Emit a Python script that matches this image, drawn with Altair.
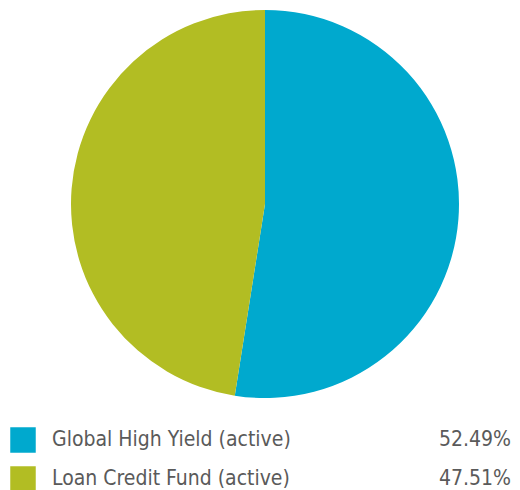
import altair as alt
import pandas as pd

categories = ["Global High Yield (active)", "Loan Credit Fund (active)"]
values = [52.49, 47.51]
labels = ["52.49%", "47.51%"]
colors = ["#00A9CE", "#B2BD23"]
order_idx = [0, 1]

df = pd.DataFrame({"category": categories, "value": values, "label": labels, "idx": order_idx})

FONT = "DejaVu Sans Condensed, Roboto Condensed, Roboto"
TEXT_COLOR = "#5a5a5a"

color = alt.Color("category:N", scale=alt.Scale(domain=categories, range=colors), legend=None)

base = alt.Chart(df)

pie = base.mark_arc(outerRadius=194).encode(
    theta=alt.Theta("value:Q", stack=True),
    color=color,
    order=alt.Order("idx:Q"),
    x=alt.value(257),
    y=alt.value(196),
)

ypos = alt.Y("category:N", sort=categories,
             scale=alt.Scale(domain=categories, type="point", range=[432, 471], padding=0),
             axis=None)

squares = base.mark_square(size=650, opacity=1).encode(x=alt.value(15), y=ypos, color=color)
names = base.mark_text(align="left", baseline="middle", font=FONT, fontSize=21, color=TEXT_COLOR).encode(
    x=alt.value(44), y=ypos, text="category:N")
pcts = base.mark_text(align="right", baseline="middle", font=FONT, fontSize=21, color=TEXT_COLOR).encode(
    x=alt.value(503), y=ypos, text="label:N")

chart = alt.layer(pie, squares, names, pcts).properties(
    width=504, height=482, padding=0, autosize=alt.AutoSizeParams(type="none")
).configure_view(stroke=None)

chart.save("out.html", embed_options={"renderer": "svg", "actions": False})
